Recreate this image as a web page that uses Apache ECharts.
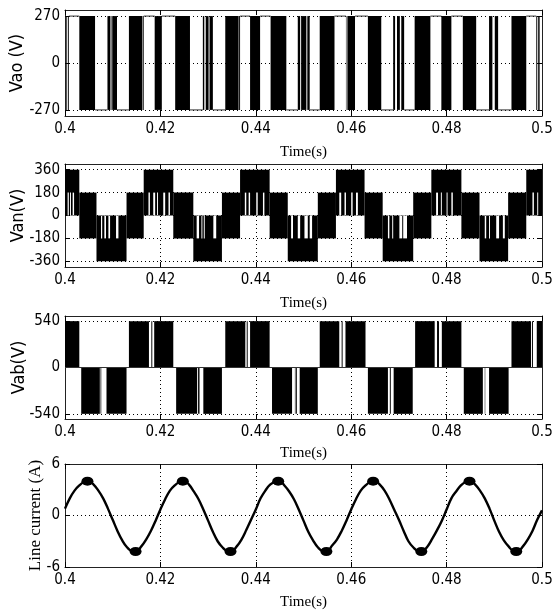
<!DOCTYPE html>
<html>
<head>
<meta charset="utf-8">
<title>Inverter waveforms</title>
<script src="https://cdn.jsdelivr.net/npm/echarts@6.0.0/dist/echarts.min.js"></script>
<style>
  html, body { margin: 0; padding: 0; background: #fff; }
  #chart { width: 552px; height: 612px; }
</style>
</head>
<body>
<div id="chart"></div>
<script>
  // x ticks (s)
  var timeTicks = [0.40, 0.42, 0.44, 0.46, 0.48, 0.50];

  // Vao: switching blocks [t0, t1] spanning -270..270, and hold segments [t0, t1, level]
  var vaoLevels = [-270, 0, 270];
  var vaoBlocks = [
    [0.4002, 0.40035], [0.4006, 0.4008],
    [0.4030, 0.4063],
    [0.4089, 0.4095], [0.4096, 0.40975], [0.4099, 0.4109],
    [0.4134, 0.4162], [0.4163, 0.4165],
    [0.4188, 0.4203],
    [0.4231, 0.4262],
    [0.4289, 0.4292], [0.4295, 0.4301], [0.4303, 0.4310],
    [0.4336, 0.4364], [0.4365, 0.4367],
    [0.4388, 0.4409],
    [0.4431, 0.4464],
    [0.4488, 0.4493], [0.4495, 0.4506], [0.4508, 0.4513],
    [0.4534, 0.4565],
    [0.4589, 0.4590], [0.4592, 0.4608],
    [0.4635, 0.4663],
    [0.4688, 0.4692], [0.4696, 0.4702], [0.4705, 0.4711],
    [0.4733, 0.4766],
    [0.4789, 0.4810],
    [0.4834, 0.4862],
    [0.4889, 0.4896], [0.4901, 0.4908],
    [0.4936, 0.4967],
    [0.4988, 0.4990], [0.4992, 0.4995]
  ];
  var vaoHolds = [
    [0.4008, 0.4030, 270], [0.4063, 0.4089, -270], [0.4109, 0.4134, -270], [0.4165, 0.4188, 270],
    [0.4203, 0.4231, 270], [0.4262, 0.4289, -270], [0.4310, 0.4336, -270], [0.4367, 0.4388, 270],
    [0.4409, 0.4431, 270], [0.4464, 0.4488, -270], [0.4513, 0.4534, -270], [0.4565, 0.4589, 270],
    [0.4608, 0.4635, 270], [0.4663, 0.4688, -270], [0.4711, 0.4733, -270], [0.4766, 0.4789, 270],
    [0.4810, 0.4834, 270], [0.4862, 0.4889, -270], [0.4908, 0.4936, -270], [0.4967, 0.4988, 270]
  ];

  // Van: staircase blocks [t0, t1, low, high] and white gaps [t0, t1, low, high]
  var vanLevels = [-360, -180, 0, 180, 360];
  var vanBlocks = [
    [0.4000, 0.4030, 0, 360],
    [0.4030, 0.4066, -180, 180],
    [0.4066, 0.4129, -360, 0],
    [0.4129, 0.4165, -180, 180],
    [0.4165, 0.4227, 0, 360],
    [0.4227, 0.4269, -180, 180],
    [0.4269, 0.4329, -360, 0],
    [0.4329, 0.4367, -180, 180],
    [0.4367, 0.4429, 0, 360],
    [0.4429, 0.4467, -180, 180],
    [0.4467, 0.4530, -360, 0],
    [0.4530, 0.4568, -180, 180],
    [0.4568, 0.4628, 0, 360],
    [0.4628, 0.4666, -180, 180],
    [0.4666, 0.4730, -360, 0],
    [0.4730, 0.4768, -180, 180],
    [0.4768, 0.4831, 0, 360],
    [0.4831, 0.4869, -180, 180],
    [0.4869, 0.4929, -360, 0],
    [0.4929, 0.4967, -180, 180],
    [0.4967, 0.5000, 0, 360]
  ];
  var vanGaps = [
    [0.40055, 0.4008, 0, 180], [0.40105, 0.40125, 0, 180], [0.4016, 0.4019, 0, 180],
    [0.40755, 0.4078, -180, 0], [0.40825, 0.4086, -180, 0], [0.4091, 0.40945, -180, 0], [0.4107, 0.4112, -180, 0],
    [0.4175, 0.4178, 0, 180], [0.4185, 0.4189, 0, 180], [0.4193, 0.4195, 0, 180], [0.4206, 0.4210, 0, 180], [0.4217, 0.4220, 0, 180],
    [0.4276, 0.4281, -180, 0], [0.4286, 0.4288, -180, 0], [0.4291, 0.4293, -180, 0], [0.4311, 0.4317, -180, 0],
    [0.4377, 0.4380, 0, 180], [0.4385, 0.4388, 0, 180], [0.4401, 0.4404, 0, 180], [0.4415, 0.4418, 0, 180],
    [0.4474, 0.4478, -180, 0], [0.4488, 0.4493, -180, 0], [0.4502, 0.4509, -180, 0], [0.4513, 0.4518, -180, 0],
    [0.4575, 0.4579, 0, 180], [0.4586, 0.4589, 0, 180], [0.4600, 0.4603, 0, 180], [0.4610, 0.4614, 0, 180],
    [0.4677, 0.4680, -180, 0], [0.4686, 0.4688, -180, 0], [0.4701, 0.4707, -180, 0], [0.4709, 0.4717, -180, 0],
    [0.4778, 0.4782, 0, 180], [0.4788, 0.4790, 0, 180], [0.4800, 0.4802, 0, 180], [0.4810, 0.4813, 0, 180],
    [0.4880, 0.4883, -180, 0], [0.4889, 0.4891, -180, 0], [0.4904, 0.4910, -180, 0], [0.4918, 0.4922, -180, 0],
    [0.4980, 0.4983, 0, 180], [0.4990, 0.4992, 0, 180]
  ];

  // Vab: blocks [t0, t1, low, high]
  var vabLevels = [-540, 0, 540];
  var vabBlocks = [
    [0.4000, 0.4030, 0, 540], [0.4134, 0.4176, 0, 540], [0.4187, 0.4227, 0, 540],
    [0.4336, 0.4378, 0, 540], [0.4388, 0.4429, 0, 540], [0.4534, 0.4575, 0, 540],
    [0.4588, 0.4630, 0, 540], [0.4734, 0.4775, 0, 540], [0.4790, 0.4831, 0, 540],
    [0.4936, 0.4977, 0, 540], [0.4989, 0.5000, 0, 540],
    [0.4034, 0.4073, -540, 0], [0.4087, 0.4129, -540, 0], [0.4233, 0.4277, -540, 0],
    [0.4290, 0.4329, -540, 0], [0.4434, 0.4476, -540, 0], [0.4492, 0.4530, -540, 0],
    [0.4635, 0.4677, -540, 0], [0.4689, 0.4729, -540, 0], [0.4836, 0.4876, -540, 0],
    [0.4889, 0.4930, -540, 0],
    // thin pulses
    [0.40745, 0.4076, -540, 0], [0.4279, 0.4281, -540, 0], [0.4282, 0.4283, -540, 0],
    [0.4482, 0.4483, -540, 0], [0.4484, 0.4486, -540, 0], [0.4681, 0.4683, -540, 0],
    [0.4880, 0.4881, -540, 0],
    [0.4181, 0.4183, 0, 540], [0.4381, 0.4383, 0, 540], [0.4580, 0.4582, 0, 540],
    [0.4780, 0.4784, 0, 540], [0.4979, 0.4981, 0, 540]
  ];
  var vabHolds = [[0.4000, 0.5000, 0]];

  // Line current (A)
  var curLevels = [-6, 0, 6];
  var curTime = [
    0.400, 0.401, 0.402, 0.403, 0.404, 0.405, 0.406, 0.407, 0.408, 0.409,
    0.410, 0.411, 0.412, 0.413, 0.414, 0.415, 0.416, 0.417, 0.418, 0.419,
    0.420, 0.421, 0.422, 0.423, 0.424, 0.425, 0.426, 0.427, 0.428, 0.429,
    0.430, 0.431, 0.432, 0.433, 0.434, 0.435, 0.436, 0.437, 0.438, 0.439,
    0.440, 0.441, 0.442, 0.443, 0.444, 0.445, 0.446, 0.447, 0.448, 0.449,
    0.450, 0.451, 0.452, 0.453, 0.454, 0.455, 0.456, 0.457, 0.458, 0.459,
    0.460, 0.461, 0.462, 0.463, 0.464, 0.465, 0.466, 0.467, 0.468, 0.469,
    0.470, 0.471, 0.472, 0.473, 0.474, 0.475, 0.476, 0.477, 0.478, 0.479,
    0.480, 0.481, 0.482, 0.483, 0.484, 0.485, 0.486, 0.487, 0.488, 0.489,
    0.490, 0.491, 0.492, 0.493, 0.494, 0.495, 0.496, 0.497, 0.498, 0.499,
    0.500
  ];
  var curValue = [
    0.8, 2.0, 2.9, 3.5, 3.9, 4.0, 3.6, 2.9, 2.0, 0.8,
    -0.5, -1.8, -2.9, -3.7, -4.1, -4.1, -3.6, -2.8, -1.8, -0.6,
    0.7, 1.9, 2.9, 3.5, 3.9, 4.0, 3.6, 2.8, 1.9, 0.7,
    -0.6, -1.9, -3.0, -3.7, -4.1, -4.1, -3.6, -2.8, -1.7, -0.5,
    0.7, 2.0, 2.9, 3.6, 3.9, 4.0, 3.5, 2.8, 1.9, 0.7,
    -0.6, -1.9, -2.9, -3.7, -4.1, -4.1, -3.5, -2.8, -1.8, -0.6,
    0.7, 1.9, 2.9, 3.5, 3.9, 4.0, 3.6, 2.9, 1.9, 0.7,
    -0.5, -1.8, -3.0, -3.7, -4.1, -4.1, -3.6, -2.7, -1.7, -0.6,
    0.7, 2.0, 2.8, 3.5, 3.9, 4.0, 3.6, 2.9, 2.0, 0.8,
    -0.6, -1.9, -2.9, -3.6, -4.1, -4.1, -3.6, -2.8, -1.8, -0.5,
    0.6
  ];
  var curPeaks = [
    [0.4047, 4.0], [0.4148, -4.2], [0.4247, 4.0], [0.4347, -4.2], [0.4447, 4.0],
    [0.4548, -4.2], [0.4646, 4.0], [0.4747, -4.2], [0.4848, 4.0], [0.4946, -4.2]
  ];

  var tickFont = "'Liberation Sans Narrow', 'DejaVu Sans Condensed', 'Liberation Sans', sans-serif";
  var serifFont = "'Liberation Serif', 'DejaVu Serif', serif";

  var chart = echarts.init(document.getElementById('chart'));

  var grids = [
    {left: 65, right: 10, top: 10, height: 106},
    {left: 65, right: 10, top: 164, height: 103},
    {left: 65, right: 10, top: 316, height: 103},
    {left: 65, right: 10, top: 464, height: 103}
  ].map(function (g) {
    g.containLabel = false;
    g.outerBoundsMode = 'none';
    return g;
  });

  var dotted = {type: [1, 3], color: '#000', width: 1};
  var boxLine = {show: true, onZero: false, lineStyle: {color: '#222', width: 1}};

  function xAxes(g, nameGap) {
    return [{
      gridIndex: g, type: 'value', position: 'bottom',
      min: 0.4, max: 0.5, interval: 0.02,
      name: 'Time(s)', nameLocation: 'middle', nameGap: nameGap, nameMoveOverlap: false,
      nameTextStyle: {fontFamily: serifFont, fontSize: 15, color: '#000'},
      axisLine: boxLine,
      axisTick: {inside: true, length: 5, lineStyle: {color: '#000'}},
      axisLabel: {
        margin: 6, fontFamily: tickFont, fontSize: 15, color: '#000',
        formatter: function (v) { return String(+v.toFixed(2)); }
      },
      splitLine: {show: true, lineStyle: dotted}
    }, {
      gridIndex: g, type: 'value', position: 'top',
      min: 0.4, max: 0.5, interval: 0.02,
      axisLine: boxLine,
      axisTick: {inside: true, length: 5, lineStyle: {color: '#000'}},
      axisLabel: {show: false},
      splitLine: {show: false}
    }];
  }

  function yAxes(g, lim, ticks, name, nameGap, nameFont, nameSize) {
    return [{
      gridIndex: g, type: 'value', position: 'left', min: -lim, max: lim,
      name: name, nameLocation: 'middle', nameGap: nameGap, nameMoveOverlap: false,
      nameTextStyle: {fontFamily: nameFont, fontSize: nameSize, color: '#000'},
      axisLine: boxLine,
      axisTick: {inside: true, length: 5, customValues: ticks, lineStyle: {color: '#000'}},
      axisLabel: {customValues: ticks, margin: 5, fontFamily: tickFont, fontSize: 15, color: '#000'},
      splitLine: {show: true, lineStyle: dotted}
    }, {
      gridIndex: g, type: 'value', position: 'right', min: -lim, max: lim,
      axisLine: boxLine,
      axisTick: {inside: true, length: 5, customValues: ticks, lineStyle: {color: '#000'}},
      axisLabel: {show: false},
      splitLine: {show: false}
    }];
  }

  function rectRender(color) {
    return function (params, api) {
      var a = api.coord([api.value(0), api.value(3)]);
      var b = api.coord([api.value(1), api.value(2)]);
      return {
        type: 'rect',
        shape: {x: a[0], y: a[1], width: Math.max(b[0] - a[0], 0.4), height: b[1] - a[1]},
        style: {fill: color}
      };
    };
  }

  function holdRender(params, api) {
    var a = api.coord([api.value(0), api.value(2)]);
    var b = api.coord([api.value(1), api.value(2)]);
    return {
      type: 'line',
      shape: {x1: a[0], y1: a[1], x2: b[0], y2: b[1]},
      style: {stroke: '#333', lineWidth: 1}
    };
  }

  function blockSeries(g, data, color, z) {
    return {
      type: 'custom', xAxisIndex: 2 * g, yAxisIndex: 2 * g, z: z,
      renderItem: rectRender(color), silent: true,
      encode: {x: [0, 1], y: [2, 3]}, data: data
    };
  }

  function holdSeries(g, data) {
    return {
      type: 'custom', xAxisIndex: 2 * g, yAxisIndex: 2 * g, z: 3,
      renderItem: holdRender, silent: true,
      encode: {x: [0, 1], y: 2}, data: data
    };
  }

  var vaoRects = vaoBlocks.map(function (b) { return [b[0], b[1], -270, 270]; });
  var curData = curTime.map(function (t, i) { return [t, curValue[i]]; });

  chart.setOption({
    animation: false,
    backgroundColor: '#fff',
    grid: grids,
    xAxis: [].concat(xAxes(0, 29), xAxes(1, 29), xAxes(2, 27), xAxes(3, 28)),
    yAxis: [].concat(
      yAxes(0, 305, vaoLevels, 'Vao (V)', 39, tickFont, 18),
      yAxes(1, 405, vanLevels, 'Van(V)', 38, tickFont, 18),
      yAxes(2, 600, vabLevels, 'Vab(V)', 37, tickFont, 18),
      yAxes(3, 6, curLevels, 'Line current (A)', 21, serifFont, 17)
    ),
    series: [
      blockSeries(0, vaoRects, '#000', 2),
      holdSeries(0, vaoHolds),
      blockSeries(1, vanBlocks, '#000', 2),
      blockSeries(1, vanGaps, '#fff', 3),
      blockSeries(2, vabBlocks, '#000', 2),
      holdSeries(2, vabHolds),
      {
        type: 'line', xAxisIndex: 6, yAxisIndex: 6, data: curData,
        smooth: 0.4, symbol: 'none', silent: true,
        lineStyle: {color: '#000', width: 2.4}
      },
      {
        type: 'scatter', xAxisIndex: 6, yAxisIndex: 6, data: curPeaks,
        symbol: 'circle', symbolSize: [12, 9], silent: true,
        itemStyle: {color: '#000', opacity: 1, borderWidth: 0}
      }
    ]
  });
</script>
</body>
</html>
